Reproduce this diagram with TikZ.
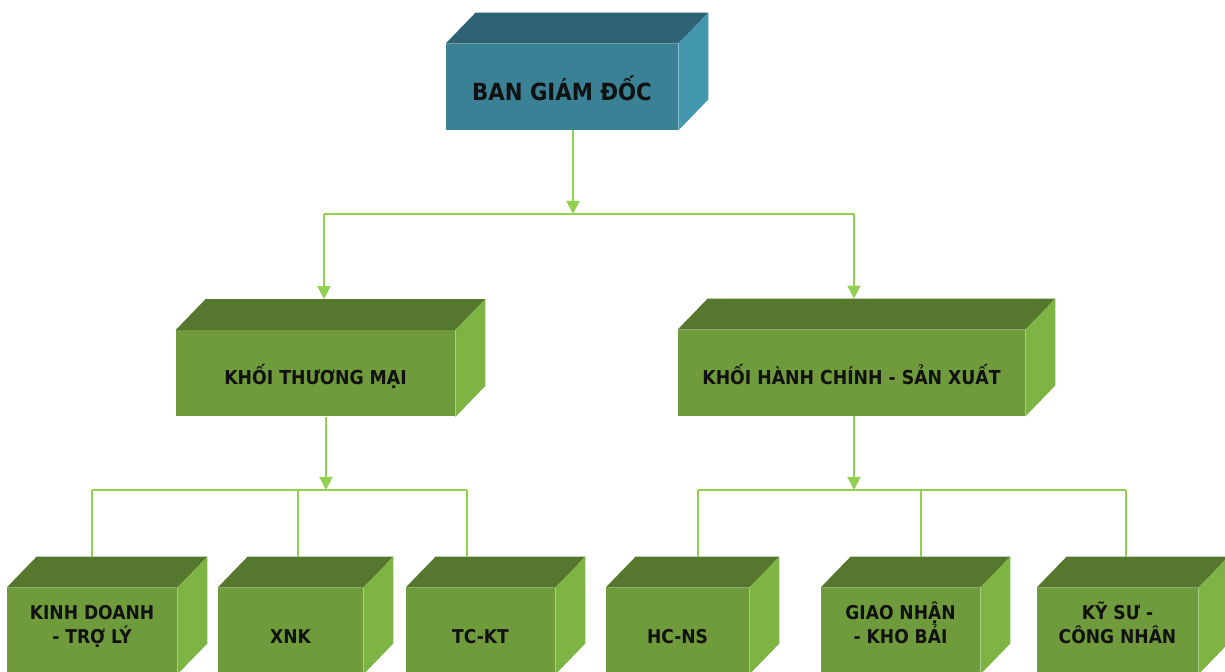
\documentclass[tikz,border=0pt]{standalone}
\usepackage{fontspec}
\setmainfont{DejaVu Sans}[FakeStretch=0.9]
\usetikzlibrary{calc,arrows.meta}
\definecolor{gfront}{HTML}{6F9B3C}
\definecolor{gtop}{HTML}{56782E}
\definecolor{gside}{HTML}{7DB443}
\definecolor{bfront}{HTML}{3A8196}
\definecolor{btop}{HTML}{2D6373}
\definecolor{bside}{HTML}{4397AF}
\definecolor{linkc}{HTML}{92D050}
\definecolor{textc}{HTML}{111111}
% top and side faces of a box, and the middle of its back top edge
\newcommand{\boxfaces}[3]{%
  \fill[#2] (#1.north west) -- ++(30,-31) -- ($(#1.north east)+(30,-31)$) -- (#1.north east) -- cycle;
  \fill[#3] (#1.north east) -- ++(30,-31) -- ($(#1.south east)+(30,-31)$) -- (#1.south east) -- cycle;
  \coordinate (#1-back) at ($(#1.north)+(0,-31)$);
}
\tikzset{
  front/.style={fill=gfront, inner sep=0pt, text=textc, align=center, minimum height=43pt},
  toptext/.style={font=\bfseries\fontsize{11.8}{14}\selectfont, text height=13.6pt, text depth=0pt},
  midtext/.style={font=\bfseries\fontsize{9.6}{12}\selectfont, text height=11.5pt, text depth=0pt},
  lowtext/.style={font=\bfseries\fontsize{9.5}{12}\selectfont, text height=12.9pt, text depth=0pt},
  link/.style={draw=linkc, line width=1pt},
  arr/.style={-{Triangle[length=6.5pt,width=6.5pt]}}
}
\begin{document}
\begin{tikzpicture}[x=0.5pt,y=-0.5pt]
  \useasboundingbox (0,0) rectangle (1225,672);
  \clip (0,0) rectangle (1225,672);

  \node[front, fill=bfront, toptext, minimum width=116pt] (BGD) at (562,87) {BAN GIÁM ĐỐC};
  \node[front, midtext, minimum width=139.5pt] (KTM) at (315.5,373.5) {KHỐI THƯƠNG MẠI};
  \node[front, midtext, minimum width=173.5pt] (KHC) at (851.5,373) {KHỐI HÀNH CHÍNH - SẢN XUẤT};
  \node[front, lowtext, minimum width=85pt] (KD) at (92,631) {KINH DOANH\\- TRỢ LÝ};
  \node[front, lowtext, minimum width=72.5pt] (XNK) at (290.5,631) {XNK};
  \node[front, lowtext, minimum width=74.5pt] (TCKT) at (480.5,631) {TC-KT};
  \node[front, lowtext, minimum width=71.5pt] (HCNS) at (677.5,631) {HC-NS};
  \node[front, lowtext, minimum width=79.5pt] (GN) at (900.5,631) {GIAO NHẬN\\- KHO BẢI};
  \node[front, lowtext, minimum width=80.5pt] (KS) at (1117.5,631) {KỸ SƯ -\\CÔNG NHÂN};

  \boxfaces{BGD}{btop}{bside}
  \foreach \n in {KTM,KHC,KD,XNK,TCKT,HCNS,GN,KS}
    {\boxfaces{\n}{gtop}{gside}}

  \coordinate (j0) at (573,214);
  \coordinate (jl) at (324,214);
  \coordinate (jr) at (854,214);
  \coordinate (j1) at (326,490);
  \coordinate (j1a) at (92,490);
  \coordinate (j1b) at (298,490);
  \coordinate (j1c) at (467,490);
  \coordinate (j2) at (854,490);
  \coordinate (j2a) at (698,490);
  \coordinate (j2b) at (921,490);
  \coordinate (j2c) at (1126,490);

  \draw[link, arr] (BGD.south -| j0) -- (j0);
  \draw[link] (jl) -- (jr);
  \draw[link, arr] (jl) -- (jl |- KTM-back);
  \draw[link, arr] (jr) -- (jr |- KHC-back);
  \draw[link, arr] (KTM.south -| j1) -- (j1);
  \draw[link, arr] (KHC.south -| j2) -- (j2);
  \draw[link] (j1a) -- (j1c);
  \draw[link] (j2a) -- (j2c);
  \foreach \j/\n in {j1a/KD, j1b/XNK, j1c/TCKT, j2a/HCNS, j2b/GN, j2c/KS}
    \draw[link] (\j) -- (\j |- \n-back);
\end{tikzpicture}
\end{document}
